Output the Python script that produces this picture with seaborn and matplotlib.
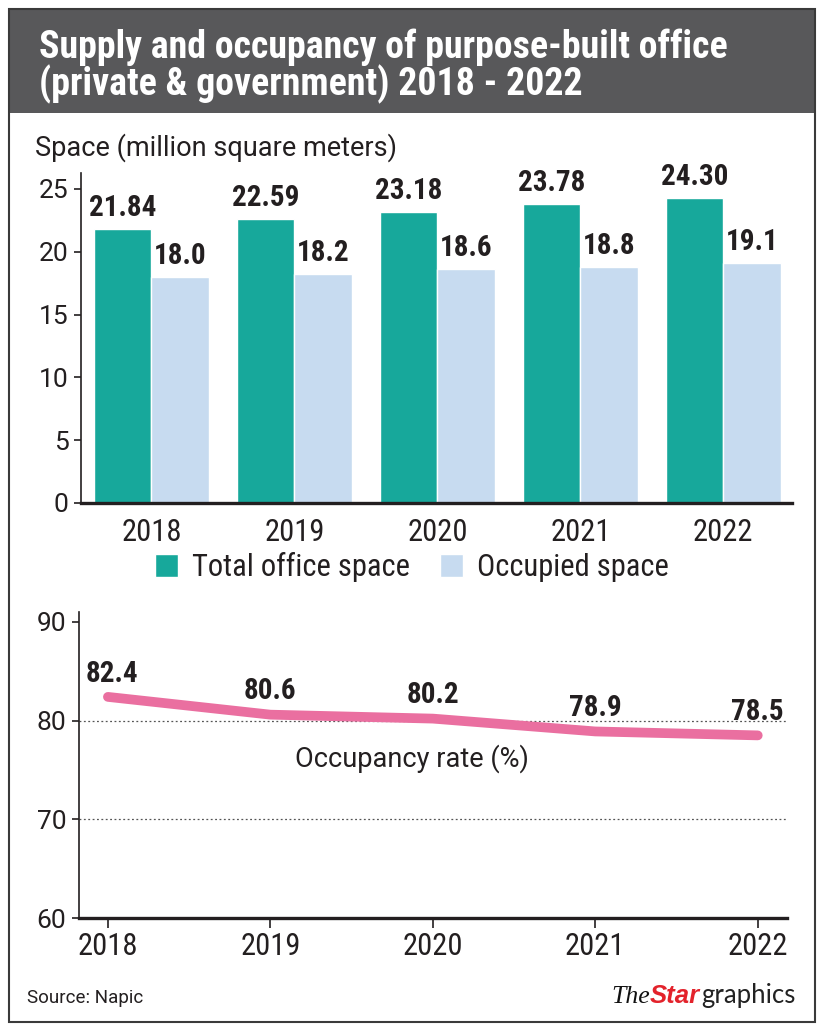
import matplotlib
matplotlib.use("Agg")
import matplotlib.pyplot as plt
import seaborn as sns
import pandas as pd
from matplotlib.patches import Rectangle

# ---- data ----
years = ["2018", "2019", "2020", "2021", "2022"]
total_space = [21.84, 22.59, 23.18, 23.78, 24.30]
occupied_space = [18.0, 18.2, 18.6, 18.8, 19.1]
total_labels = ["21.84", "22.59", "23.18", "23.78", "24.30"]
occupied_labels = ["18.0", "18.2", "18.6", "18.8", "19.1"]
occupancy_rate = [82.4, 80.6, 80.2, 78.9, 78.5]
occupancy_labels = ["82.4", "80.6", "80.2", "78.9", "78.5"]
series_names = ["Total office space", "Occupied space"]
bar_yticks = [0, 5, 10, 15, 20, 25]
line_yticks = [60, 70, 80, 90]

TEAL = "#17a89b"
LIGHT = "#c7dbf0"
PINK = "#ea6fa0"
DARK = "#231f20"
TITLE_BG = "#58585a"

COND = ["Roboto Condensed", "Roboto", "DejaVu Sans"]
REG = ["Roboto", "DejaVu Sans"]

sns.set_theme(style="white")
plt.rcParams["font.family"] = COND
plt.rcParams["text.color"] = DARK

W, H = 825, 1033
fig = plt.figure(figsize=(W / 100, H / 100), dpi=100)

def fx(px):
    return px / W

def fy(py):
    return 1 - py / H

# frame + title bar
fig.patches.append(Rectangle((fx(9), fy(113)), fx(815) - fx(9), fy(9) - fy(113),
                             transform=fig.transFigure, facecolor=TITLE_BG, edgecolor="none", zorder=0))
fig.patches.append(Rectangle((fx(9), fy(1022)), fx(815) - fx(9), fy(9) - fy(1022),
                             transform=fig.transFigure, facecolor="none", edgecolor="#3a3a3a",
                             linewidth=1.5, zorder=5))
fig.text(fx(39), fy(47), "Supply and occupancy of purpose-built office",
         color="white", fontsize=27.3, fontweight="bold", va="center", ha="left")
fig.text(fx(39), fy(84), "(private & government) 2018 - 2022",
         color="white", fontsize=27.3, fontweight="bold", va="center", ha="left")

# ---- bar chart ----
df = pd.DataFrame({
    "year": years * 2,
    "value": total_space + occupied_space,
    "series": [series_names[0]] * len(years) + [series_names[1]] * len(years),
})
ax1 = fig.add_axes([fx(81), fy(503), fx(792) - fx(81), fy(173) - fy(503)])
sns.barplot(data=df, x="year", y="value", hue="series", ax=ax1,
            palette=[TEAL, LIGHT], saturation=1, width=0.8, gap=0, legend=True)
ax1.set_xlim(-0.493, 4.48)
ax1.set_ylim(0, 26.27)
ax1.set_yticks(bar_yticks)
ax1.set_xlabel("")
ax1.set_ylabel("")
for s in ["top", "right"]:
    ax1.spines[s].set_visible(False)
ax1.spines["left"].set_color(DARK)
ax1.spines["left"].set_linewidth(1.2)
ax1.spines["bottom"].set_color(DARK)
ax1.spines["bottom"].set_linewidth(2.4)
ax1.tick_params(axis="y", left=True, length=5, width=1.2, color=DARK, pad=4, labelcolor=DARK)
ax1.tick_params(axis="x", bottom=False, pad=5, labelcolor=DARK)
for t in ax1.get_yticklabels():
    t.set_fontfamily(REG)
    t.set_fontsize(19)
for t in ax1.get_xticklabels():
    t.set_fontsize(22)
for cont, labs in zip(ax1.containers, [total_labels, occupied_labels]):
    ax1.bar_label(cont, labels=labs, padding=5, fontsize=21, fontweight="bold", color=DARK)
fig.text(fx(35), fy(148), "Space (million square meters)", fontsize=19.5, family=REG,
         va="center", ha="left", color=DARK)

handles, labels = ax1.get_legend_handles_labels()
ax1.get_legend().remove()
fig.legend(handles, labels, loc="center", bbox_to_anchor=(fx(412), fy(567)), ncol=2,
           frameon=False, fontsize=22, handlelength=0.75, handleheight=0.75,
           handletextpad=0.45, columnspacing=1.0)

# ---- line chart ----
ax2 = fig.add_axes([fx(79), fy(918), fx(787) - fx(79), fy(612) - fy(918)])
ldf = pd.DataFrame({"x": list(range(len(years))), "rate": occupancy_rate})
sns.lineplot(data=ldf, x="x", y="rate", ax=ax2, color=PINK, linewidth=7,
             solid_capstyle="round", solid_joinstyle="round")
ax2.set_xlim(-0.178, 4.18)
ax2.set_ylim(60, 91)
ax2.set_xticks(range(len(years)))
ax2.set_xticklabels(years)
ax2.set_yticks(line_yticks)
ax2.set_xlabel("")
ax2.set_ylabel("")
for s in ["top", "right"]:
    ax2.spines[s].set_visible(False)
ax2.spines["left"].set_color(DARK)
ax2.spines["left"].set_linewidth(1.2)
ax2.spines["bottom"].set_color(DARK)
ax2.spines["bottom"].set_linewidth(2.4)
ax2.tick_params(axis="y", left=True, length=5, width=1.2, color=DARK, pad=4, labelcolor=DARK)
ax2.tick_params(axis="x", bottom=True, length=7, width=1.2, color=DARK, pad=3, labelcolor=DARK)
for t in ax2.get_yticklabels():
    t.set_fontfamily(REG)
    t.set_fontsize(19)
for t in ax2.get_xticklabels():
    t.set_fontsize(22)
for yv in [70, 80]:
    ax2.axhline(yv, color="#555555", linewidth=0.9, linestyle=(0, (1.5, 2)), zorder=0)
for i, (v, lab) in enumerate(zip(occupancy_rate, occupancy_labels)):
    ax2.annotate(lab, (i, v), xytext=(3 if i == 0 else 0, 11), textcoords="offset points",
                 ha="center", va="baseline", fontsize=21, fontweight="bold", color=DARK)
ax2.text(0.47, 0.52, "Occupancy rate (%)", transform=ax2.transAxes, ha="center", va="center",
         fontsize=19.5, family=REG, color=DARK)

# ---- footer ----
fig.text(fx(27), fy(998), "Source: Napic", fontsize=13.5, family=REG, va="center", ha="left", color=DARK)
t1 = fig.text(fx(611), fy(1003), "The", fontsize=18.5, fontstyle="italic",
              family=["Liberation Serif", "DejaVu Serif"], color="#111111", va="baseline", ha="left")
ann2 = plt.annotate("Star", xy=(1, 0), xycoords=t1, xytext=(0, 0), textcoords="offset points",
                    fontsize=18.5, fontweight="bold", fontstyle="italic",
                    family=["Liberation Sans", "DejaVu Sans"], color="#e3222b", va="bottom", ha="left",
                    annotation_clip=False)
ann3 = plt.annotate("graphics", xy=(1, 0), xycoords=ann2, xytext=(1, 0), textcoords="offset points",
                    fontsize=18.5, family=["Lato", "Open Sans", "DejaVu Sans"], color="#222222",
                    va="bottom", ha="left", annotation_clip=False)

fig.savefig("out.png", dpi=100)
